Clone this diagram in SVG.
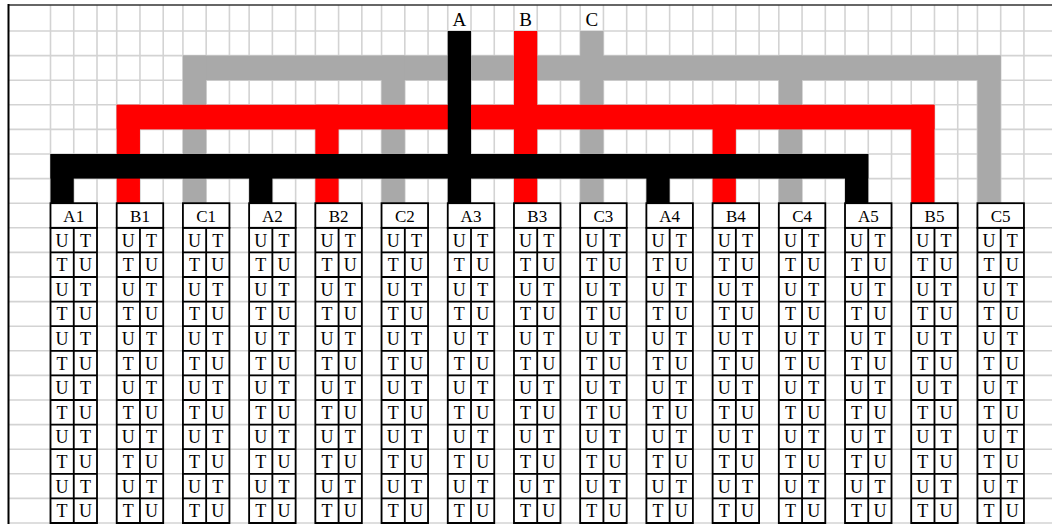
<svg xmlns="http://www.w3.org/2000/svg" xmlns:xlink="http://www.w3.org/1999/xlink" width="1052" height="524" viewBox="0 0 1052 524">
<style>
.grid{stroke:#d3d3d3;stroke-width:1.6;fill:none}
.bx{fill:#fff;stroke:#000;stroke-width:1.8}
.ln{fill:none;stroke:#000;stroke-width:1.8}
.t{font-family:"Liberation Serif","Times New Roman",serif;font-size:18px;text-anchor:middle;fill:#000}
.h{font-family:"Liberation Serif","Times New Roman",serif;font-size:17px;text-anchor:middle;fill:#000}
.s{font-family:"Liberation Serif","Times New Roman",serif;font-size:19px;text-anchor:middle;fill:#000}
.gray{fill:#a9a9a9}
.red{fill:#ff0000}
.blk{fill:#000}
</style>
<defs>
<path id="cellgrid" class="ln" d="M0 227.8H46.5V523H0Z M23.25 227.8V523 M0 252.4H46.5 M0 277H46.5 M0 301.6H46.5 M0 326.2H46.5 M0 350.8H46.5 M0 375.4H46.5 M0 400H46.5 M0 424.6H46.5 M0 449.2H46.5 M0 473.8H46.5 M0 498.4H46.5"/>
</defs>
<rect x="0" y="0" width="1052" height="524" fill="#fff"/>
<g id="grid">
<path class="grid" d="M8 31H1052 M8 55.6H1052 M8 80.2H1052 M8 104.8H1052 M8 129.4H1052 M8 154H1052 M8 178.6H1052 M8 203.2H1052 M8 227.8H1052 M8 252.4H1052 M8 277H1052 M8 301.6H1052 M8 326.2H1052 M8 350.8H1052 M8 375.4H1052 M8 400H1052 M8 424.6H1052 M8 449.2H1052 M8 473.8H1052 M8 498.4H1052 M8 523H1052"/>
<path class="grid" d="M50.5 5V524 M73.75 5V524 M97 5V524 M116.71 5V524 M139.96 5V524 M163.21 5V524 M182.92 5V524 M206.17 5V524 M229.42 5V524 M249.13 5V524 M272.38 5V524 M295.63 5V524 M315.34 5V524 M338.59 5V524 M361.84 5V524 M381.55 5V524 M404.8 5V524 M428.05 5V524 M447.76 5V524 M471.01 5V524 M494.26 5V524 M513.97 5V524 M537.22 5V524 M560.47 5V524 M580.18 5V524 M603.43 5V524 M626.68 5V524 M646.39 5V524 M669.64 5V524 M692.89 5V524 M712.6 5V524 M735.85 5V524 M759.1 5V524 M778.81 5V524 M802.06 5V524 M825.31 5V524 M845.02 5V524 M868.27 5V524 M891.52 5V524 M911.23 5V524 M934.48 5V524 M957.73 5V524 M977.44 5V524 M1000.69 5V524 M1023.94 5V524"/>
<line x1="8" y1="5" x2="1052" y2="5" stroke="#333" stroke-width="1.6"/>
<line x1="8.5" y1="4" x2="8.5" y2="524" stroke="#000" stroke-width="2"/>
</g>
<g id="connectors">
<g id="netC">
<rect class="gray" x="182.92" y="55.6" width="817.77" height="24.6"/>
<rect class="gray" x="182.92" y="55.6" width="23.25" height="147.6"/>
<rect class="gray" x="381.55" y="55.6" width="23.25" height="147.6"/>
<rect class="gray" x="580.18" y="31" width="23.25" height="172.2"/>
<rect class="gray" x="778.81" y="55.6" width="23.25" height="147.6"/>
<rect class="gray" x="977.44" y="55.6" width="23.25" height="147.6"/>
</g>
<g id="netB">
<rect class="red" x="116.71" y="104.8" width="817.77" height="24.6"/>
<rect class="red" x="116.71" y="104.8" width="23.25" height="98.4"/>
<rect class="red" x="315.34" y="104.8" width="23.25" height="98.4"/>
<rect class="red" x="513.97" y="31" width="23.25" height="172.2"/>
<rect class="red" x="712.6" y="104.8" width="23.25" height="98.4"/>
<rect class="red" x="911.23" y="104.8" width="23.25" height="98.4"/>
</g>
<g id="netA">
<rect class="blk" x="50.5" y="154" width="817.77" height="24.6"/>
<rect class="blk" x="50.5" y="154" width="23.25" height="49.2"/>
<rect class="blk" x="249.13" y="154" width="23.25" height="49.2"/>
<rect class="blk" x="447.76" y="31" width="23.25" height="172.2"/>
<rect class="blk" x="646.39" y="154" width="23.25" height="49.2"/>
<rect class="blk" x="845.02" y="154" width="23.25" height="49.2"/>
</g>
</g>
<g id="source-labels">
<text class="s" x="459.4" y="26">A</text>
<text class="s" x="525.6" y="26">B</text>
<text class="s" x="591.8" y="26">C</text>
</g>
<g id="A1" transform="translate(50.5,0)"><rect class="bx" x="0" y="203.2" width="46.5" height="24.6"/><text class="h" x="23.25" y="221.5">A1</text><use xlink:href="#cellgrid"/><text class="t" x="11.6 34.9" y="246.6">UT</text><text class="t" x="11.6 34.9" y="271.2">TU</text><text class="t" x="11.6 34.9" y="295.8">UT</text><text class="t" x="11.6 34.9" y="320.4">TU</text><text class="t" x="11.6 34.9" y="345">UT</text><text class="t" x="11.6 34.9" y="369.6">TU</text><text class="t" x="11.6 34.9" y="394.2">UT</text><text class="t" x="11.6 34.9" y="418.8">TU</text><text class="t" x="11.6 34.9" y="443.4">UT</text><text class="t" x="11.6 34.9" y="468">TU</text><text class="t" x="11.6 34.9" y="492.6">UT</text><text class="t" x="11.6 34.9" y="517.2">TU</text></g>
<g id="B1" transform="translate(116.71,0)"><rect class="bx" x="0" y="203.2" width="46.5" height="24.6"/><text class="h" x="23.25" y="221.5">B1</text><use xlink:href="#cellgrid"/><text class="t" x="11.6 34.9" y="246.6">UT</text><text class="t" x="11.6 34.9" y="271.2">TU</text><text class="t" x="11.6 34.9" y="295.8">UT</text><text class="t" x="11.6 34.9" y="320.4">TU</text><text class="t" x="11.6 34.9" y="345">UT</text><text class="t" x="11.6 34.9" y="369.6">TU</text><text class="t" x="11.6 34.9" y="394.2">UT</text><text class="t" x="11.6 34.9" y="418.8">TU</text><text class="t" x="11.6 34.9" y="443.4">UT</text><text class="t" x="11.6 34.9" y="468">TU</text><text class="t" x="11.6 34.9" y="492.6">UT</text><text class="t" x="11.6 34.9" y="517.2">TU</text></g>
<g id="C1" transform="translate(182.92,0)"><rect class="bx" x="0" y="203.2" width="46.5" height="24.6"/><text class="h" x="23.25" y="221.5">C1</text><use xlink:href="#cellgrid"/><text class="t" x="11.6 34.9" y="246.6">UT</text><text class="t" x="11.6 34.9" y="271.2">TU</text><text class="t" x="11.6 34.9" y="295.8">UT</text><text class="t" x="11.6 34.9" y="320.4">TU</text><text class="t" x="11.6 34.9" y="345">UT</text><text class="t" x="11.6 34.9" y="369.6">TU</text><text class="t" x="11.6 34.9" y="394.2">UT</text><text class="t" x="11.6 34.9" y="418.8">TU</text><text class="t" x="11.6 34.9" y="443.4">UT</text><text class="t" x="11.6 34.9" y="468">TU</text><text class="t" x="11.6 34.9" y="492.6">UT</text><text class="t" x="11.6 34.9" y="517.2">TU</text></g>
<g id="A2" transform="translate(249.13,0)"><rect class="bx" x="0" y="203.2" width="46.5" height="24.6"/><text class="h" x="23.25" y="221.5">A2</text><use xlink:href="#cellgrid"/><text class="t" x="11.6 34.9" y="246.6">UT</text><text class="t" x="11.6 34.9" y="271.2">TU</text><text class="t" x="11.6 34.9" y="295.8">UT</text><text class="t" x="11.6 34.9" y="320.4">TU</text><text class="t" x="11.6 34.9" y="345">UT</text><text class="t" x="11.6 34.9" y="369.6">TU</text><text class="t" x="11.6 34.9" y="394.2">UT</text><text class="t" x="11.6 34.9" y="418.8">TU</text><text class="t" x="11.6 34.9" y="443.4">UT</text><text class="t" x="11.6 34.9" y="468">TU</text><text class="t" x="11.6 34.9" y="492.6">UT</text><text class="t" x="11.6 34.9" y="517.2">TU</text></g>
<g id="B2" transform="translate(315.34,0)"><rect class="bx" x="0" y="203.2" width="46.5" height="24.6"/><text class="h" x="23.25" y="221.5">B2</text><use xlink:href="#cellgrid"/><text class="t" x="11.6 34.9" y="246.6">UT</text><text class="t" x="11.6 34.9" y="271.2">TU</text><text class="t" x="11.6 34.9" y="295.8">UT</text><text class="t" x="11.6 34.9" y="320.4">TU</text><text class="t" x="11.6 34.9" y="345">UT</text><text class="t" x="11.6 34.9" y="369.6">TU</text><text class="t" x="11.6 34.9" y="394.2">UT</text><text class="t" x="11.6 34.9" y="418.8">TU</text><text class="t" x="11.6 34.9" y="443.4">UT</text><text class="t" x="11.6 34.9" y="468">TU</text><text class="t" x="11.6 34.9" y="492.6">UT</text><text class="t" x="11.6 34.9" y="517.2">TU</text></g>
<g id="C2" transform="translate(381.55,0)"><rect class="bx" x="0" y="203.2" width="46.5" height="24.6"/><text class="h" x="23.25" y="221.5">C2</text><use xlink:href="#cellgrid"/><text class="t" x="11.6 34.9" y="246.6">UT</text><text class="t" x="11.6 34.9" y="271.2">TU</text><text class="t" x="11.6 34.9" y="295.8">UT</text><text class="t" x="11.6 34.9" y="320.4">TU</text><text class="t" x="11.6 34.9" y="345">UT</text><text class="t" x="11.6 34.9" y="369.6">TU</text><text class="t" x="11.6 34.9" y="394.2">UT</text><text class="t" x="11.6 34.9" y="418.8">TU</text><text class="t" x="11.6 34.9" y="443.4">UT</text><text class="t" x="11.6 34.9" y="468">TU</text><text class="t" x="11.6 34.9" y="492.6">UT</text><text class="t" x="11.6 34.9" y="517.2">TU</text></g>
<g id="A3" transform="translate(447.76,0)"><rect class="bx" x="0" y="203.2" width="46.5" height="24.6"/><text class="h" x="23.25" y="221.5">A3</text><use xlink:href="#cellgrid"/><text class="t" x="11.6 34.9" y="246.6">UT</text><text class="t" x="11.6 34.9" y="271.2">TU</text><text class="t" x="11.6 34.9" y="295.8">UT</text><text class="t" x="11.6 34.9" y="320.4">TU</text><text class="t" x="11.6 34.9" y="345">UT</text><text class="t" x="11.6 34.9" y="369.6">TU</text><text class="t" x="11.6 34.9" y="394.2">UT</text><text class="t" x="11.6 34.9" y="418.8">TU</text><text class="t" x="11.6 34.9" y="443.4">UT</text><text class="t" x="11.6 34.9" y="468">TU</text><text class="t" x="11.6 34.9" y="492.6">UT</text><text class="t" x="11.6 34.9" y="517.2">TU</text></g>
<g id="B3" transform="translate(513.97,0)"><rect class="bx" x="0" y="203.2" width="46.5" height="24.6"/><text class="h" x="23.25" y="221.5">B3</text><use xlink:href="#cellgrid"/><text class="t" x="11.6 34.9" y="246.6">UT</text><text class="t" x="11.6 34.9" y="271.2">TU</text><text class="t" x="11.6 34.9" y="295.8">UT</text><text class="t" x="11.6 34.9" y="320.4">TU</text><text class="t" x="11.6 34.9" y="345">UT</text><text class="t" x="11.6 34.9" y="369.6">TU</text><text class="t" x="11.6 34.9" y="394.2">UT</text><text class="t" x="11.6 34.9" y="418.8">TU</text><text class="t" x="11.6 34.9" y="443.4">UT</text><text class="t" x="11.6 34.9" y="468">TU</text><text class="t" x="11.6 34.9" y="492.6">UT</text><text class="t" x="11.6 34.9" y="517.2">TU</text></g>
<g id="C3" transform="translate(580.18,0)"><rect class="bx" x="0" y="203.2" width="46.5" height="24.6"/><text class="h" x="23.25" y="221.5">C3</text><use xlink:href="#cellgrid"/><text class="t" x="11.6 34.9" y="246.6">UT</text><text class="t" x="11.6 34.9" y="271.2">TU</text><text class="t" x="11.6 34.9" y="295.8">UT</text><text class="t" x="11.6 34.9" y="320.4">TU</text><text class="t" x="11.6 34.9" y="345">UT</text><text class="t" x="11.6 34.9" y="369.6">TU</text><text class="t" x="11.6 34.9" y="394.2">UT</text><text class="t" x="11.6 34.9" y="418.8">TU</text><text class="t" x="11.6 34.9" y="443.4">UT</text><text class="t" x="11.6 34.9" y="468">TU</text><text class="t" x="11.6 34.9" y="492.6">UT</text><text class="t" x="11.6 34.9" y="517.2">TU</text></g>
<g id="A4" transform="translate(646.39,0)"><rect class="bx" x="0" y="203.2" width="46.5" height="24.6"/><text class="h" x="23.25" y="221.5">A4</text><use xlink:href="#cellgrid"/><text class="t" x="11.6 34.9" y="246.6">UT</text><text class="t" x="11.6 34.9" y="271.2">TU</text><text class="t" x="11.6 34.9" y="295.8">UT</text><text class="t" x="11.6 34.9" y="320.4">TU</text><text class="t" x="11.6 34.9" y="345">UT</text><text class="t" x="11.6 34.9" y="369.6">TU</text><text class="t" x="11.6 34.9" y="394.2">UT</text><text class="t" x="11.6 34.9" y="418.8">TU</text><text class="t" x="11.6 34.9" y="443.4">UT</text><text class="t" x="11.6 34.9" y="468">TU</text><text class="t" x="11.6 34.9" y="492.6">UT</text><text class="t" x="11.6 34.9" y="517.2">TU</text></g>
<g id="B4" transform="translate(712.6,0)"><rect class="bx" x="0" y="203.2" width="46.5" height="24.6"/><text class="h" x="23.25" y="221.5">B4</text><use xlink:href="#cellgrid"/><text class="t" x="11.6 34.9" y="246.6">UT</text><text class="t" x="11.6 34.9" y="271.2">TU</text><text class="t" x="11.6 34.9" y="295.8">UT</text><text class="t" x="11.6 34.9" y="320.4">TU</text><text class="t" x="11.6 34.9" y="345">UT</text><text class="t" x="11.6 34.9" y="369.6">TU</text><text class="t" x="11.6 34.9" y="394.2">UT</text><text class="t" x="11.6 34.9" y="418.8">TU</text><text class="t" x="11.6 34.9" y="443.4">UT</text><text class="t" x="11.6 34.9" y="468">TU</text><text class="t" x="11.6 34.9" y="492.6">UT</text><text class="t" x="11.6 34.9" y="517.2">TU</text></g>
<g id="C4" transform="translate(778.81,0)"><rect class="bx" x="0" y="203.2" width="46.5" height="24.6"/><text class="h" x="23.25" y="221.5">C4</text><use xlink:href="#cellgrid"/><text class="t" x="11.6 34.9" y="246.6">UT</text><text class="t" x="11.6 34.9" y="271.2">TU</text><text class="t" x="11.6 34.9" y="295.8">UT</text><text class="t" x="11.6 34.9" y="320.4">TU</text><text class="t" x="11.6 34.9" y="345">UT</text><text class="t" x="11.6 34.9" y="369.6">TU</text><text class="t" x="11.6 34.9" y="394.2">UT</text><text class="t" x="11.6 34.9" y="418.8">TU</text><text class="t" x="11.6 34.9" y="443.4">UT</text><text class="t" x="11.6 34.9" y="468">TU</text><text class="t" x="11.6 34.9" y="492.6">UT</text><text class="t" x="11.6 34.9" y="517.2">TU</text></g>
<g id="A5" transform="translate(845.02,0)"><rect class="bx" x="0" y="203.2" width="46.5" height="24.6"/><text class="h" x="23.25" y="221.5">A5</text><use xlink:href="#cellgrid"/><text class="t" x="11.6 34.9" y="246.6">UT</text><text class="t" x="11.6 34.9" y="271.2">TU</text><text class="t" x="11.6 34.9" y="295.8">UT</text><text class="t" x="11.6 34.9" y="320.4">TU</text><text class="t" x="11.6 34.9" y="345">UT</text><text class="t" x="11.6 34.9" y="369.6">TU</text><text class="t" x="11.6 34.9" y="394.2">UT</text><text class="t" x="11.6 34.9" y="418.8">TU</text><text class="t" x="11.6 34.9" y="443.4">UT</text><text class="t" x="11.6 34.9" y="468">TU</text><text class="t" x="11.6 34.9" y="492.6">UT</text><text class="t" x="11.6 34.9" y="517.2">TU</text></g>
<g id="B5" transform="translate(911.23,0)"><rect class="bx" x="0" y="203.2" width="46.5" height="24.6"/><text class="h" x="23.25" y="221.5">B5</text><use xlink:href="#cellgrid"/><text class="t" x="11.6 34.9" y="246.6">UT</text><text class="t" x="11.6 34.9" y="271.2">TU</text><text class="t" x="11.6 34.9" y="295.8">UT</text><text class="t" x="11.6 34.9" y="320.4">TU</text><text class="t" x="11.6 34.9" y="345">UT</text><text class="t" x="11.6 34.9" y="369.6">TU</text><text class="t" x="11.6 34.9" y="394.2">UT</text><text class="t" x="11.6 34.9" y="418.8">TU</text><text class="t" x="11.6 34.9" y="443.4">UT</text><text class="t" x="11.6 34.9" y="468">TU</text><text class="t" x="11.6 34.9" y="492.6">UT</text><text class="t" x="11.6 34.9" y="517.2">TU</text></g>
<g id="C5" transform="translate(977.44,0)"><rect class="bx" x="0" y="203.2" width="46.5" height="24.6"/><text class="h" x="23.25" y="221.5">C5</text><use xlink:href="#cellgrid"/><text class="t" x="11.6 34.9" y="246.6">UT</text><text class="t" x="11.6 34.9" y="271.2">TU</text><text class="t" x="11.6 34.9" y="295.8">UT</text><text class="t" x="11.6 34.9" y="320.4">TU</text><text class="t" x="11.6 34.9" y="345">UT</text><text class="t" x="11.6 34.9" y="369.6">TU</text><text class="t" x="11.6 34.9" y="394.2">UT</text><text class="t" x="11.6 34.9" y="418.8">TU</text><text class="t" x="11.6 34.9" y="443.4">UT</text><text class="t" x="11.6 34.9" y="468">TU</text><text class="t" x="11.6 34.9" y="492.6">UT</text><text class="t" x="11.6 34.9" y="517.2">TU</text></g>
</svg>
